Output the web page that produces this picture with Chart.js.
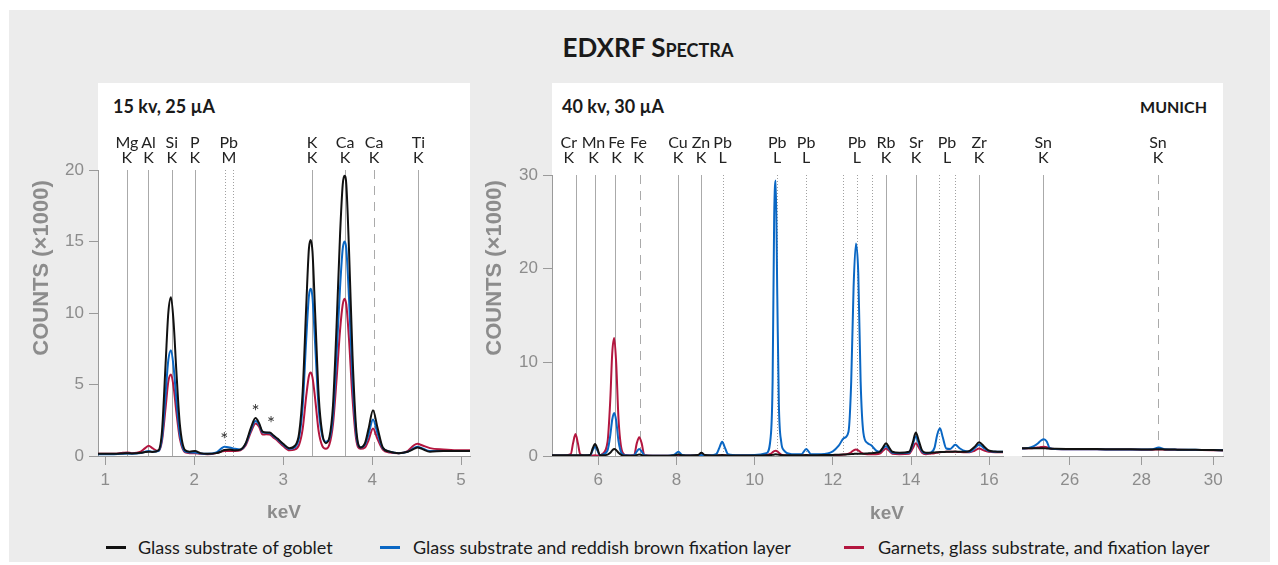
<!DOCTYPE html>
<html>
<head>
<meta charset="utf-8">
<script src="https://cdn.jsdelivr.net/npm/chart.js@4.4.1/dist/chart.umd.min.js"></script>
<style>
  body { margin: 0; width: 1278px; height: 565px; background: #fff; position: relative; overflow: hidden; font-family: Lato, sans-serif; }
  #frame { position: absolute; left: 9px; top: 10px; width: 1261px; height: 552px; background: #ececec; }
  .panel { position: absolute; background: #fff; }
  .box { position: absolute; }
  .txt { position: absolute; white-space: nowrap; color: #1a1a1a; }
  .swatch { position: absolute; width: 20px; height: 3px; top: 546px; }
  .legend { top: 536px; line-height: 22px; font-size: 18px; }
</style>
</head>
<body>
<div id="frame"></div>
<div class="panel" style="left:98px; top:83px; width:372px; height:373px;"></div>
<div class="panel" style="left:552px; top:83px; width:671px; height:373px;"></div>

<div class="txt" style="left:0; width:1278px; top:32px; line-height:30px; text-align:center; padding-left:18px; box-sizing:border-box; font-weight:700; font-size:26px; font-variant:small-caps;">EDXRF Spectra</div>
<div class="txt" style="left:113px; top:95px; line-height:22px; font-weight:700; font-size:18px;">15 kv, 25 µA</div>
<div class="txt" style="left:562px; top:95px; line-height:22px; font-weight:700; font-size:18px;">40 kv, 30 µA</div>
<div class="txt" style="right:71px; top:96px; line-height:22px; font-weight:700; font-size:16px;">MUNICH</div>

<div class="box" style="left:20px; top:83px; width:460px; height:443px;"><canvas id="lowChart"></canvas></div>
<div class="box" style="left:475px; top:83px; width:538px; height:443px;"><canvas id="highChart"></canvas></div>
<div class="box" style="left:1012px; top:83px; width:221px; height:443px;"><canvas id="tinChart"></canvas></div>

<div class="txt" style="left:857px; width:60px; text-align:center; top:501px; line-height:24px; font-family:'Liberation Sans'; font-weight:700; font-size:19px; color:#8c8c8c;">keV</div>

<div class="swatch" style="left:106px; background:#111;"></div>
<div class="txt legend" style="left:138px;">Glass substrate of goblet</div>
<div class="swatch" style="left:380px; background:#0a67c4;"></div>
<div class="txt legend" style="left:413px;">Glass substrate and reddish brown fixation layer</div>
<div class="swatch" style="left:844px; background:#b3163f;"></div>
<div class="txt legend" style="left:878px;">Garnets, glass substrate, and fixation layer</div>

<script>
// series
const seriesNames = [
  "Glass substrate of goblet",
  "Glass substrate and reddish brown fixation layer",
  "Garnets, glass substrate, and fixation layer",
];
const seriesColors = ["#111111", "#0a67c4", "#b3163f"];

// 15 kv, 25 µA  (keV / counts x1000)
const lowEnergy = [
  0.92, 1.0, 1.1, 1.2, 1.25, 1.3, 1.4, 1.45, 1.49, 1.53,
  1.6, 1.64, 1.68, 1.71, 1.74, 1.77, 1.8, 1.84, 1.9, 1.95,
  2.01, 2.07, 2.15, 2.25, 2.3, 2.34, 2.4, 2.46, 2.52, 2.58,
  2.64, 2.69, 2.73, 2.77, 2.81, 2.85, 2.89, 2.94, 3.0, 3.07,
  3.13, 3.18, 3.22, 3.26, 3.29, 3.31, 3.33, 3.36, 3.4, 3.44,
  3.48, 3.52, 3.56, 3.6, 3.64, 3.67, 3.69, 3.71, 3.74, 3.78,
  3.82, 3.87, 3.92, 3.96, 4.01, 4.06, 4.12, 4.2, 4.3, 4.4,
  4.47, 4.51, 4.56, 4.65, 4.8, 4.95, 5.1,
];
const lowGoblet = [
  0.15, 0.15, 0.15, 0.18, 0.2, 0.18, 0.22, 0.28, 0.3, 0.28,
  0.4, 1.8, 6.5, 10.0, 11.1, 9.3, 6.0, 2.2, 0.4, 0.3,
  0.35, 0.2, 0.15, 0.2, 0.3, 0.42, 0.45, 0.4, 0.45, 0.9,
  2.0, 2.65, 2.3, 1.7, 1.65, 1.65, 1.45, 1.2, 0.85, 0.55,
  0.7, 1.6, 4.5, 10.5, 14.5, 15.1, 14.3, 10.0, 4.2, 1.6,
  0.9, 1.3, 3.5, 9.0, 15.5, 19.0, 19.6, 19.0, 14.5, 7.0,
  2.0, 0.6, 0.9, 1.9, 3.2, 2.0, 0.6, 0.3, 0.2, 0.3,
  0.5, 0.6, 0.5, 0.3, 0.35, 0.35, 0.35,
];
const lowFixation = [
  0.12, 0.12, 0.12, 0.15, 0.18, 0.15, 0.2, 0.3, 0.35, 0.3,
  0.35, 1.3, 4.4, 6.7, 7.4, 6.2, 4.0, 1.5, 0.3, 0.25,
  0.25, 0.18, 0.15, 0.25, 0.5, 0.65, 0.6, 0.5, 0.45, 0.85,
  1.85, 2.45, 2.2, 1.65, 1.62, 1.6, 1.4, 1.15, 0.8, 0.5,
  0.6, 1.3, 3.5, 8.2, 11.2, 11.7, 11.1, 7.8, 3.3, 1.4,
  1.0, 1.2, 2.8, 7.0, 11.8, 14.5, 15.0, 14.5, 11.1, 5.4,
  1.6, 0.6, 0.8, 1.5, 2.55, 1.6, 0.55, 0.3, 0.2, 0.3,
  0.55, 0.65, 0.55, 0.35, 0.35, 0.35, 0.35,
];
const lowGarnets = [
  0.15, 0.15, 0.15, 0.22, 0.25, 0.2, 0.3, 0.55, 0.72, 0.55,
  0.35, 1.1, 3.4, 5.2, 5.7, 4.8, 3.1, 1.2, 0.25, 0.2,
  0.2, 0.15, 0.12, 0.2, 0.3, 0.35, 0.35, 0.35, 0.4, 0.75,
  1.7, 2.28, 2.05, 1.5, 1.52, 1.5, 1.3, 1.05, 0.7, 0.4,
  0.45, 0.8, 1.9, 4.2, 5.6, 5.84, 5.5, 4.0, 1.7, 0.7,
  0.5, 0.8, 2.2, 5.3, 8.8, 10.6, 11.0, 10.6, 8.2, 4.0,
  1.2, 0.5, 0.6, 1.1, 1.93, 1.2, 0.45, 0.25, 0.2, 0.35,
  0.75, 0.85, 0.75, 0.55, 0.45, 0.4, 0.4,
];

// 40 kv, 30 µA, first part of the broken axis
const highEnergy = [
  4.82, 5.1, 5.3, 5.36, 5.42, 5.48, 5.54, 5.65, 5.8, 5.86,
  5.92, 5.98, 6.04, 6.1, 6.24, 6.31, 6.36, 6.41, 6.46, 6.52,
  6.6, 6.7, 6.82, 6.92, 6.99, 7.05, 7.11, 7.18, 7.4, 7.7,
  7.95, 8.05, 8.15, 8.35, 8.55, 8.64, 8.73, 8.9, 9.02, 9.1,
  9.17, 9.24, 9.32, 9.6, 10.0, 10.3, 10.42, 10.46, 10.5, 10.54,
  10.58, 10.62, 10.68, 10.75, 10.95, 11.2, 11.32, 11.44, 11.7, 12.0,
  12.15, 12.28, 12.4, 12.47, 12.53, 12.59, 12.65, 12.71, 12.78, 12.88,
  12.98, 13.1, 13.2, 13.28, 13.36, 13.44, 13.52, 13.7, 13.95, 14.04,
  14.12, 14.2, 14.28, 14.38, 14.5, 14.6, 14.67, 14.74, 14.81, 14.9,
  15.0, 15.13, 15.25, 15.4, 15.5, 15.62, 15.74, 15.86, 15.98, 16.15, 16.35,
];
const highGoblet = [
  0.08, 0.08, 0.08, 0.08, 0.08, 0.08, 0.08, 0.08, 0.12, 0.8,
  1.28, 0.8, 0.12, 0.08, 0.15, 0.35, 0.6, 0.75, 0.65, 0.35,
  0.1, 0.03, 0.02, 0.02, 0.1, 0.15, 0.1, 0.02, 0.02, 0.02,
  0.08, 0.15, 0.08, 0.05, 0.1, 0.35, 0.1, 0.06, 0.06, 0.08,
  0.1, 0.08, 0.06, 0.06, 0.06, 0.08, 0.1, 0.12, 0.15, 0.18,
  0.16, 0.13, 0.1, 0.08, 0.08, 0.08, 0.1, 0.08, 0.1, 0.12,
  0.13, 0.15, 0.18, 0.2, 0.22, 0.25, 0.25, 0.25, 0.25, 0.28,
  0.3, 0.35, 0.45, 0.9, 1.35, 0.9, 0.45, 0.35, 0.45, 1.4,
  2.5, 1.6, 0.6, 0.35, 0.35, 0.38, 0.4, 0.42, 0.42, 0.45,
  0.45, 0.48, 0.45, 0.45, 0.55, 0.95, 1.46, 1.05, 0.6, 0.48, 0.45,
];
const highFixation = [
  0.05, 0.05, 0.05, 0.05, 0.05, 0.05, 0.05, 0.05, 0.1, 0.6,
  1.0, 0.6, 0.12, 0.15, 0.6, 2.2, 3.9, 4.6, 3.8, 1.6,
  0.3, 0.08, 0.05, 0.08, 0.5, 0.75, 0.5, 0.08, 0.02, 0.02,
  0.15, 0.46, 0.12, 0.05, 0.05, 0.12, 0.05, 0.08, 0.2, 0.9,
  1.53, 0.9, 0.2, 0.08, 0.1, 0.3, 2.5, 8.0, 25.5, 29.4,
  17.0, 5.5, 1.5, 0.6, 0.2, 0.2, 0.75, 0.2, 0.2, 0.5,
  1.1, 1.9, 2.6, 8.0, 18.0, 22.7, 19.5, 8.0, 2.5, 1.4,
  1.15, 0.6, 0.45, 0.8, 1.05, 0.75, 0.35, 0.3, 0.35, 1.2,
  2.1, 1.3, 0.5, 0.3, 0.35, 0.9, 2.3, 2.95, 2.0, 0.8,
  0.75, 1.2, 0.8, 0.5, 0.45, 0.8, 1.2, 0.85, 0.55, 0.45, 0.45,
];
const highGarnets = [
  0.05, 0.05, 0.2, 1.4, 2.35, 1.4, 0.2, 0.05, 0.05, 0.05,
  0.08, 0.05, 0.05, 0.2, 1.5, 6.0, 11.0, 12.6, 10.0, 4.0,
  0.7, 0.1, 0.05, 0.1, 1.4, 2.0, 1.4, 0.1, 0.02, 0.02,
  0.05, 0.1, 0.05, 0.05, 0.05, 0.15, 0.05, 0.05, 0.05, 0.08,
  0.1, 0.08, 0.05, 0.05, 0.05, 0.1, 0.25, 0.4, 0.52, 0.57,
  0.5, 0.35, 0.15, 0.08, 0.05, 0.05, 0.1, 0.05, 0.05, 0.08,
  0.1, 0.15, 0.25, 0.4, 0.6, 0.7, 0.6, 0.4, 0.25, 0.2,
  0.2, 0.2, 0.25, 0.55, 0.8, 0.55, 0.25, 0.2, 0.25, 0.8,
  1.35, 0.9, 0.35, 0.2, 0.25, 0.3, 0.35, 0.4, 0.42, 0.45,
  0.45, 0.45, 0.42, 0.4, 0.4, 0.55, 0.8, 0.6, 0.45, 0.4, 0.4,
];

// 40 kv, 30 µA, Sn part after the axis break
const tinEnergy = [
  24.67, 24.85, 25.0, 25.1, 25.2, 25.28, 25.36, 25.44, 25.6, 26.0,
  26.5, 27.0, 27.5, 28.0, 28.3, 28.48, 28.65, 29.0, 29.5, 30.0, 30.27,
];
const tinGoblet = [
  0.82, 0.82, 0.82, 0.82, 0.82, 0.82, 0.81, 0.8, 0.77, 0.75,
  0.74, 0.73, 0.72, 0.7, 0.7, 0.72, 0.7, 0.68, 0.66, 0.64, 0.62,
];
const tinFixation = [
  0.8, 0.85, 1.05, 1.3, 1.65, 1.8, 1.55, 0.85, 0.75, 0.72,
  0.72, 0.7, 0.7, 0.7, 0.72, 0.9, 0.72, 0.68, 0.66, 0.64, 0.62,
];
const tinGarnets = [
  0.8, 0.82, 0.85, 0.9, 0.95, 1.0, 0.95, 0.8, 0.74, 0.72,
  0.72, 0.7, 0.7, 0.68, 0.68, 0.7, 0.68, 0.66, 0.64, 0.62, 0.6,
];

// ticks
const lowTicksX = [1, 2, 3, 4, 5];
const lowTicksY = [0, 5, 10, 15, 20];
const highTicksX = [6, 8, 10, 12, 14, 16];
const tinTicksX = [26, 28, 30];
const highTicksY = [0, 10, 20, 30];

// emission lines: [keV, style]
const lowLines = [
  [1.245, "solid"], [1.487, "solid"], [1.749, "solid"], [2.007, "solid"],
  [2.348, "dot"], [2.435, "dot"], [3.325, "solid"], [3.697, "solid"],
  [4.022, "dash"], [4.52, "solid"],
];
const lowLabels = [
  [1.245, "Mg", "K"], [1.487, "Al", "K"], [1.749, "Si", "K"], [2.007, "P", "K"],
  [2.39, "Pb", "M"], [3.325, "K", "K"], [3.697, "Ca", "K"], [4.022, "Ca", "K"],
  [4.52, "Ti", "K"],
];
const lowStars = [[2.34, 1.4], [2.69, 3.35], [2.865, 2.5]];

const highLines = [
  [5.431, "solid"], [5.916, "solid"], [6.443, "solid"], [7.064, "dash"],
  [8.05, "solid"], [8.638, "solid"], [9.181, "dot"], [10.576, "dot"],
  [11.316, "dot"], [12.25, "dot"], [12.617, "dot"], [12.99, "dot"],
  [13.357, "solid"], [14.13, "solid"], [14.717, "dot"], [15.125, "dot"],
  [15.74, "solid"],
];
// label centres sit a little off their lines where the names are crowded
const highLabels = [
  [5.25, "Cr", "K"], [5.88, "Mn", "K"], [6.47, "Fe", "K"], [7.03, "Fe", "K"],
  [8.04, "Cu", "K"], [8.63, "Zn", "K"], [9.181, "Pb", "L"], [10.576, "Pb", "L"],
  [11.316, "Pb", "L"], [12.617, "Pb", "L"], [13.357, "Rb", "K"], [14.13, "Sr", "K"],
  [14.92, "Pb", "L"], [15.74, "Zr", "K"],
];
const tinLines = [[25.26, "solid"], [28.46, "dash"]];
const tinLabels = [[25.26, "Sn", "K"], [28.46, "Sn", "K"]];

const tickFont = { family: "Liberation Sans", size: 17 };
const axisGray = "#8c8c8c";
const lineGray = "#9a9a9a";

const markers = (cfg) => ({
  id: "markers",
  beforeDatasetsDraw(chart) {
    const { ctx, chartArea, scales } = chart;
    ctx.save();
    ctx.lineWidth = 1;
    cfg.lines.forEach(([e, style]) => {
      const px = Math.round(scales.x.getPixelForValue(e)) + 0.5;
      ctx.strokeStyle = style === "dot" ? "#a0a0a0" : "#aaaaaa";
      ctx.setLineDash(style === "dash" ? [9, 7] : style === "dot" ? [1, 2] : []);
      ctx.beginPath();
      ctx.moveTo(px, chartArea.top);
      ctx.lineTo(px, chartArea.bottom);
      ctx.stroke();
    });
    ctx.restore();
  },
  afterDraw(chart) {
    const { ctx, scales } = chart;
    ctx.save();
    ctx.fillStyle = "#222";
    ctx.textAlign = "center";
    ctx.textBaseline = "middle";
    ctx.font = "16px Lato";
    cfg.labels.forEach(([e, el, shell]) => {
      const px = scales.x.getPixelForValue(e);
      ctx.fillText(el, px, 60);
      ctx.fillText(shell, px, 75);
    });
    ctx.font = "19px Lato";
    ctx.fillStyle = "#333";
    cfg.stars.forEach(([e, v]) => {
      ctx.fillText("*", scales.x.getPixelForValue(e), scales.y.getPixelForValue(v) + 4);
    });
    if (cfg.yTitleX) {
      ctx.translate(cfg.yTitleX, 185);
      ctx.rotate(-Math.PI / 2);
      ctx.font = "bold 22px 'Liberation Sans'";
      ctx.fillStyle = axisGray;
      ctx.fillText("COUNTS (×1000)", 0, 0);
    }
    ctx.restore();
  },
});

const makeChart = (id, cfg) => {
  const datasets = cfg.series.map((vals, i) => ({
    label: seriesNames[i],
    data: cfg.energy.map((e, j) => ({ x: e, y: vals[j] })),
    borderColor: seriesColors[i],
    borderWidth: 2,
    pointRadius: 0,
    cubicInterpolationMode: "monotone",
  }));
  return new Chart(document.getElementById(id), {
    type: "line",
    data: { datasets },
    options: {
      animation: false,
      responsive: true,
      maintainAspectRatio: false,
      layout: { padding: cfg.padding },
      plugins: { legend: { display: false }, tooltip: { enabled: false } },
      scales: {
        x: {
          type: "linear",
          min: cfg.xMin,
          max: cfg.xMax,
          afterBuildTicks: (s) => { s.ticks = cfg.xTicks.map((v) => ({ value: v })); },
          afterFit: (s) => { s.height = 70; },
          grid: { drawOnChartArea: false, tickLength: 9, color: lineGray },
          border: { color: lineGray },
          ticks: { font: tickFont, color: axisGray, padding: 5, maxRotation: 0, autoSkip: false },
          title: {
            display: cfg.xTitle,
            text: "keV",
            color: axisGray,
            font: { family: "Liberation Sans", size: 19, weight: "bold" },
            padding: { top: 0, bottom: 2 },
          },
        },
        y: {
          display: cfg.yWidth > 0,
          min: 0,
          max: cfg.yMax,
          afterBuildTicks: (s) => { s.ticks = cfg.yTicks.map((v) => ({ value: v })); },
          afterFit: (s) => { s.width = cfg.yWidth; },
          grid: { drawOnChartArea: false, tickLength: 9, color: lineGray },
          border: { color: lineGray },
          ticks: { font: tickFont, color: axisGray, padding: 5, autoSkip: false },
        },
      },
    },
    plugins: [markers(cfg)],
  });
};

makeChart("lowChart", {
  energy: lowEnergy,
  series: [lowGoblet, lowFixation, lowGarnets],
  xMin: 0.92, xMax: 5.1, yMax: 20,
  xTicks: lowTicksX, yTicks: lowTicksY,
  padding: { top: 87, right: 10, left: 0, bottom: 0 },
  yWidth: 78, yTitleX: 22, xTitle: true,
  lines: lowLines, labels: lowLabels, stars: lowStars,
});

makeChart("highChart", {
  energy: highEnergy,
  series: [highGoblet, highFixation, highGarnets],
  xMin: 4.82, xMax: 16.35, yMax: 30,
  xTicks: highTicksX, yTicks: highTicksY,
  padding: { top: 92, right: 10, left: 0, bottom: 0 },
  yWidth: 77, yTitleX: 20, xTitle: false,
  lines: highLines, labels: highLabels, stars: [],
});

makeChart("tinChart", {
  energy: tinEnergy,
  series: [tinGoblet, tinFixation, tinGarnets],
  xMin: 24.67, xMax: 30.27, yMax: 30,
  xTicks: tinTicksX, yTicks: highTicksY,
  padding: { top: 92, right: 10, left: 10, bottom: 0 },
  yWidth: 0, yTitleX: 0, xTitle: false,
  lines: tinLines, labels: tinLabels, stars: [],
});
</script>
</body>
</html>
